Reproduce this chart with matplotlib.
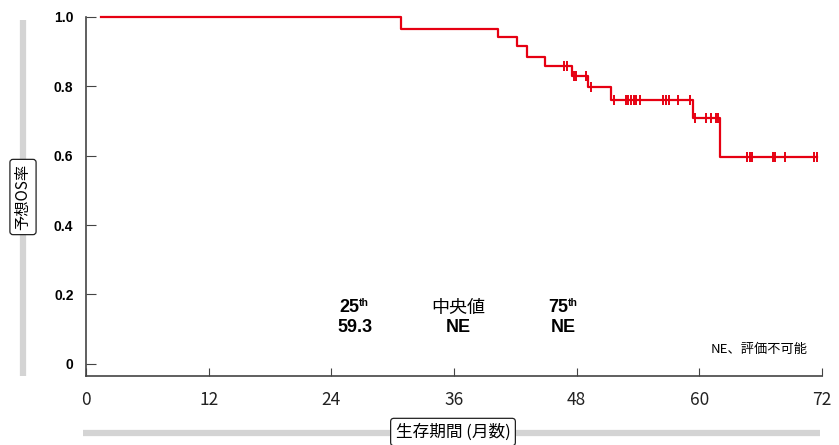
import numpy as np
import matplotlib
matplotlib.use("Agg")
import matplotlib.pyplot as plt
from matplotlib.lines import Line2D

plt.rcParams['font.family'] = ['Noto Sans CJK JP', 'DejaVu Sans']

# KM curve: step times (months) and survival after each step
start_time = 1.5
end_time = 71.5
step_times = [30.8, 40.3, 42.2, 43.1, 44.9, 47.5, 49.1, 51.4, 59.4, 62.0]
step_surv = [0.966, 0.942, 0.916, 0.886, 0.858, 0.829, 0.798, 0.762, 0.708, 0.596]

# censored observations (months)
censor_times = [46.8, 47.1, 47.7, 47.9, 48.9, 49.4, 51.7, 52.8, 53.0, 53.3, 53.6,
                53.8, 54.2, 56.4, 56.7, 57.0, 57.9, 59.1, 59.6, 60.7, 61.1, 61.6,
                61.8, 64.7, 65.0, 65.2, 67.2, 67.4, 68.4, 71.2, 71.5]

x_ticks = [0, 12, 24, 36, 48, 60, 72]
y_ticks = [0, 0.2, 0.4, 0.6, 0.8, 1.0]
y_ticklabels = ['0', '0.2', '0.4', '0.6', '0.8', '1.0']

# quartile labels: (x position in months, top line, superscript, bottom line)
quart_x = [26.3, 36.4, 46.7]
quart_top = ['25', '中央値', '75']
quart_sup = ['th', '', 'th']
quart_val = ['59.3', 'NE', 'NE']

red = '#e60012'
W, H = 839, 445

fig = plt.figure(figsize=(W / 100, H / 100), dpi=100)
ax = fig.add_axes([86 / W, 1 - 376 / H, (822 - 86) / W, (376 - 17) / H])
ax.set_xlim(0, 72)
ax.set_ylim(-0.035, 1.0)

# build the step curve
xs = [start_time] + step_times + [end_time]
ys = [1.0] + step_surv + [step_surv[-1]]
ax.step(xs, ys, where='post', color=red, lw=1.6, clip_on=False, zorder=3)

def surv_at(t):
    s = 1.0
    for st, sv in zip(step_times, step_surv):
        if t >= st:
            s = sv
    return s

cy = [surv_at(t) for t in censor_times]
ax.plot(censor_times, cy, linestyle='none', marker='|', markersize=7,
        markeredgewidth=1.4, color=red, clip_on=False, zorder=4)

for s in ['top', 'right']:
    ax.spines[s].set_visible(False)
for s in ['left', 'bottom']:
    ax.spines[s].set_color('#444444')
    ax.spines[s].set_linewidth(1.2)

ax.set_xticks(x_ticks)
ax.set_xticklabels([str(v) for v in x_ticks], fontsize=12.5, color='#222222')
ax.set_yticks(y_ticks)
ax.set_yticklabels(y_ticklabels, fontsize=10, fontweight='bold',
                   family='Liberation Sans')
ax.tick_params(axis='x', direction='in', length=6, color='#444444', pad=11)
ax.tick_params(axis='y', direction='in', length=7, color='#444444', pad=9)

# quartile annotations
for qx, top, sup, val in zip(quart_x, quart_top, quart_sup, quart_val):
    if sup:
        t = ax.annotate(top, xy=(qx, 0.162), xytext=(-4, 0), textcoords='offset points',
                        ha='center', va='center', fontsize=13,
                        fontweight='bold', family='Liberation Sans')
        ax.annotate(sup, xy=(1, 1), xycoords=t, xytext=(0, -6),
                    textcoords='offset points', ha='left', va='bottom',
                    fontsize=7.5, fontweight='bold', family='Liberation Sans')
    else:
        ax.text(qx, 0.162, top, ha='center', va='center', fontsize=13)
    ax.text(qx, 0.104, val, ha='center', va='center', fontsize=13,
            fontweight='bold', family='Liberation Sans')
ax.text(70.6, 0.04, 'NE、評価不可能', ha='right', va='center', fontsize=9.5)

# grey guide bars
fig.add_artist(Line2D([23 / W, 23 / W], [1 - 20 / H, 1 - 376 / H],
                      color='#d4d4d4', lw=4.5, solid_capstyle='butt'))
fig.add_artist(Line2D([83 / W, 820 / W], [1 - 433 / H, 1 - 433 / H],
                      color='#d4d4d4', lw=4.5, solid_capstyle='butt'))

box = dict(boxstyle='round,pad=0.3,rounding_size=0.2', fc='white', ec='#222222', lw=0.9)
fig.text(23 / W, 1 - 197 / H, '予想OS率', rotation=90, ha='center', va='center',
         fontsize=11, bbox=box)
fig.text(453 / W, 1 - 432 / H, '生存期間 (月数)', ha='center', va='center',
         fontsize=12, bbox=box)

fig.savefig('out.png', dpi=100)
